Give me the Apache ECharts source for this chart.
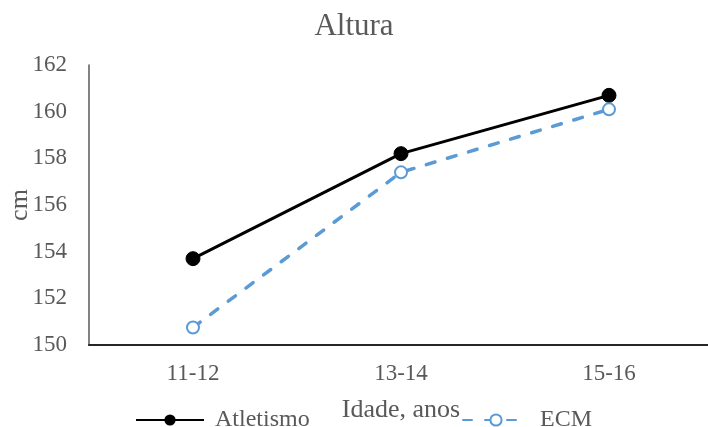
<!DOCTYPE html>
<html><head><meta charset="utf-8">
<script src="https://cdn.jsdelivr.net/npm/echarts@6/dist/echarts.min.js"></script>
<style>html,body{margin:0;padding:0;background:#fff;overflow:hidden}#c{width:708px;height:427px}</style>
</head><body><div id="c"></div>
<script>
const categories = ['11-12', '13-14', '15-16'];
const atletismo = [153.7, 158.2, 160.7];
const ecm = [150.75, 157.4, 160.1];
const yTicks = [150, 152, 154, 156, 158, 160, 162];

const font = '"Liberation Serif", "Times New Roman", serif';
const grey = '#595959';
const blue = '#5B9BD5';
const chart = echarts.init(document.getElementById('c'));
chart.setOption({
  animation: false,
  title: { text: 'Altura', left: 'center', top: 6, textStyle: { fontFamily: font, fontSize: 31, fontWeight: 'normal', color: grey } },
  grid: { left: 89, top: 65, width: 624, height: 280, containLabel: false, outerBoundsMode: 'none' },
  legend: [
    { data: ['Atletismo'], left: 135, top: 408, padding: 0, itemWidth: 68, itemHeight: 14, itemGap: 0,
      textStyle: { fontFamily: font, fontSize: 24, color: grey, padding: [0, 0, 0, 6] } },
    { data: ['ECM'], left: 462, top: 408, padding: 0, itemWidth: 66, itemHeight: 14, itemGap: 0,
      textStyle: { fontFamily: font, fontSize: 24, color: grey, padding: [0, 0, 0, 6] } }
  ],
  xAxis: {
    type: 'category', data: categories, boundaryGap: true,
    name: 'Idade, anos', nameLocation: 'middle', nameGap: 52, nameMoveOverlap: false,
    nameTextStyle: { fontFamily: font, fontSize: 26, color: grey },
    axisLine: { lineStyle: { color: '#262626', width: 2 } },
    axisTick: { show: false },
    axisLabel: { fontFamily: font, fontSize: 23, color: grey, margin: 17 }
  },
  yAxis: {
    type: 'value', min: yTicks[0], max: yTicks[yTicks.length - 1], interval: 2,
    name: 'cm', nameLocation: 'middle', nameGap: 56, nameRotate: 90, nameMoveOverlap: false,
    nameTextStyle: { fontFamily: font, fontSize: 26, color: grey },
    axisLine: { show: true, lineStyle: { color: grey, width: 1.5 } },
    axisTick: { show: false },
    splitLine: { show: false },
    axisLabel: { fontFamily: font, fontSize: 23, color: grey, margin: 22 }
  },
  series: [
    { name: 'Atletismo', type: 'line', data: atletismo, symbol: 'circle', symbolSize: 14,
      lineStyle: { color: '#000', width: 3 }, itemStyle: { color: '#000', borderColor: '#000' } },
    { name: 'ECM', type: 'line', data: ecm, symbol: 'circle', symbolSize: 12,
      lineStyle: { color: blue, width: 3.5, type: [9, 13], cap: 'round' },
      itemStyle: { color: '#fff', borderColor: blue, borderWidth: 2 } }
  ]
});
</script></body></html>
